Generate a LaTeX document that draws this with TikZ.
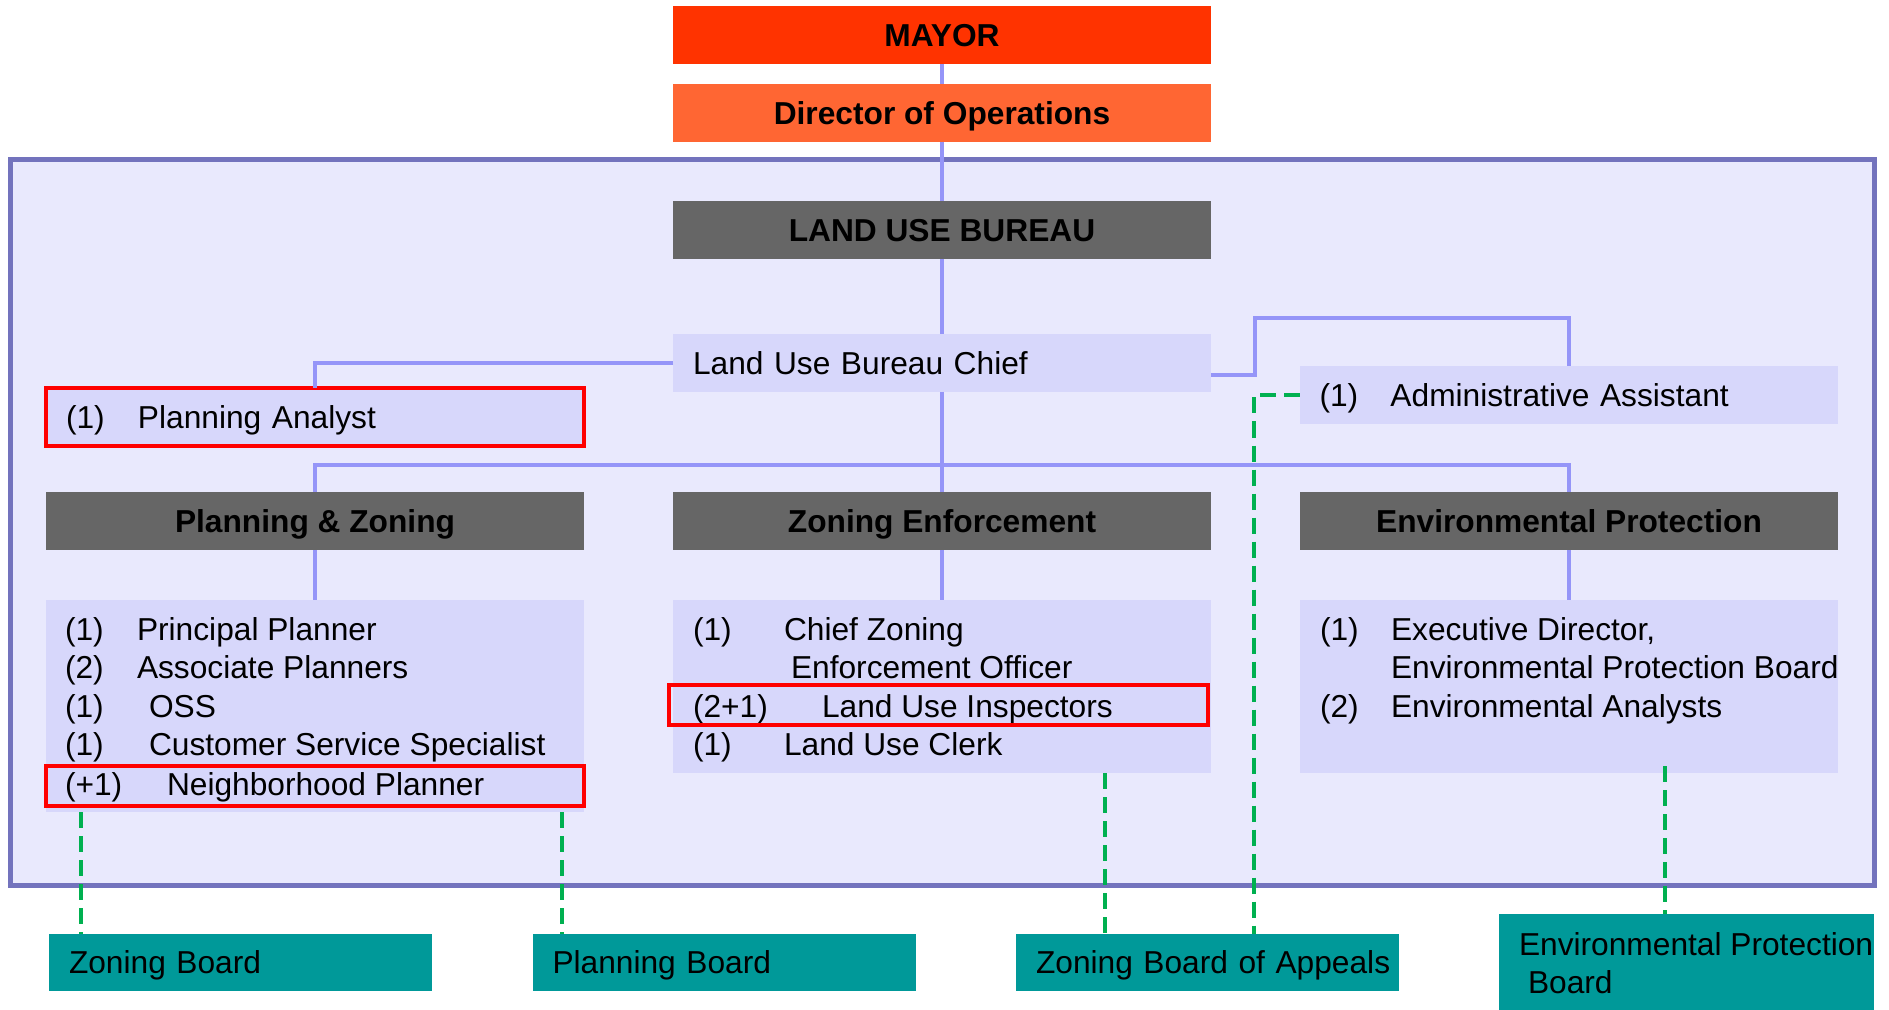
\documentclass[tikz,border=0pt]{standalone}
\usepackage{fontspec}
\setmainfont{Liberation Sans}
\usetikzlibrary{positioning}
\definecolor{mayorred}{HTML}{FF3300}
\definecolor{opsorange}{HTML}{FF6633}
\definecolor{headgray}{HTML}{666666}
\definecolor{panelfill}{HTML}{E9E9FD}
\definecolor{panelline}{HTML}{7373BD}
\definecolor{staffblue}{HTML}{D7D7FB}
\definecolor{linkblue}{HTML}{9595F8}
\definecolor{flagred}{HTML}{FF0000}
\definecolor{boardteal}{HTML}{009999}
\definecolor{boardgreen}{HTML}{00B050}
\newcommand{\orgfont}{\fontsize{15.85pt}{19pt}\selectfont}
\tikzset{
	x=0.5pt, y=-0.5pt,
	base/.style = {inner sep=0pt, outer sep=0pt, font=\orgfont, text height=11.3pt, text depth=0pt},
	wide/.style = {base, minimum width=269pt, minimum height=29pt},
	headbox/.style = {wide, fill=headgray, font=\orgfont\bfseries},
	staffbox/.style = {wide, fill=staffblue, text width=249pt, align=left},
	listbox/.style = {base, fill=staffblue, minimum width=269pt},
	flagbox/.style = {base, draw=flagred, line width=2pt, minimum width=269pt, minimum height=20pt},
	boardbox/.style = {base, fill=boardteal, minimum width=191.5pt, minimum height=28.5pt, text width=171.5pt, align=left},
	panel/.style = {base, fill=panelfill, draw=panelline, line width=2.5pt, minimum width=932pt, minimum height=362.5pt},
	entry/.style = {base, anchor=west},
	link/.style = {draw=linkblue, line width=2pt},
	boardlink/.style = {draw=boardgreen, line width=2pt, dash pattern=on 8pt off 4pt}
}
\begin{document}
\begin{tikzpicture}
	\useasboundingbox (0,0) rectangle (1889,1010);
	\node[panel] (bureau) at (942,522.5) {};
	% top of the chain
	\node[wide, fill=mayorred, font=\orgfont\bfseries] (mayor) at (942,35) {MAYOR};
	\node[wide, fill=opsorange, font=\orgfont\bfseries] (ops) [below=10pt of mayor] {Director of Operations};
	\node[headbox] (lub) [below=29.5pt of ops] {LAND USE BUREAU};
	\node[staffbox] (chief) [below=37.5pt of lub] {Land Use Bureau Chief};
	\node[staffbox, draw=flagred, line width=2pt] (analyst) at (315,417) {\makebox[36pt][l]{(1)}Planning Analyst};
	\node[staffbox] (admin) at (1568.5,395) {\makebox[35.5pt][l]{(1)}Administrative Assistant};
	% divisions
	\node[headbox] (zehead) [below=50pt of chief] {Zoning Enforcement};
	\node[headbox] (pzhead) [left=44.5pt of zehead] {Planning \& Zoning};
	\node[headbox] (ephead) [right=44.5pt of zehead] {Environmental Protection};
	\node[listbox, minimum height=106pt, anchor=north] (pzlist) [below=25pt of pzhead] {};
	\node[listbox, minimum height=86.5pt, anchor=north] (zelist) [below=25pt of zehead] {};
	\node[listbox, minimum height=86.5pt, anchor=north] (eplist) [below=25pt of ephead] {};
	% staff lines
	\node[entry] at (65,629) {(1)};
	\node[entry] at (137,629) {Principal Planner};
	\node[entry] at (65,667) {(2)};
	\node[entry] at (137,667) {Associate Planners};
	\node[entry] at (65,706) {(1)};
	\node[entry] at (149,706) {OSS};
	\node[entry] at (65,744) {(1)};
	\node[entry] at (149,744) {Customer Service Specialist};
	\node[entry] at (65,784) {(+1)};
	\node[entry] at (167,784) {Neighborhood Planner};
	\node[entry] at (693,629) {(1)};
	\node[entry] at (784,629) {Chief Zoning};
	\node[entry] at (791,667) {Enforcement Officer};
	\node[entry] at (693,706) {(2+1)};
	\node[entry] at (822,706) {Land Use Inspectors};
	\node[entry] at (693,744) {(1)};
	\node[entry] at (784,744) {Land Use Clerk};
	\node[entry] at (1320,629) {(1)};
	\node[entry] at (1391,629) {Executive Director,};
	\node[entry] at (1391,667) {Environmental Protection Board};
	\node[entry] at (1320,706) {(2)};
	\node[entry] at (1391,706) {Environmental Analysts};
	\node[flagbox] (newplanner) at (315,786) {};
	\node[flagbox, minimum width=269.5pt] (inspectors) at (938.5,705) {};
	% boards
	\node[boardbox] (zb) at (240.5,962.5) {Zoning Board};
	\node[boardbox] (pb) at (724,962.5) {Planning Board};
	\node[boardbox] (zba) at (1207.5,962.5) {\mbox{Zoning Board of Appeals}};
	\node[base, fill=boardteal, minimum width=187.5pt, minimum height=48pt] (epb) at (1686.5,962) {};
	\node[entry] at (1519,944) {Environmental Protection};
	\node[entry] at (1528,982) {Board};
	% reporting lines
	\coordinate (adminbend) at (1255,318);
	\coordinate (bus) at (942,465);
	\draw[link] (mayor) -- (ops);
	\draw[link] (ops) -- (lub);
	\draw[link] (lub) -- (chief);
	\draw[link] (chief.west) -| (analyst.north);
	\draw[link] ([yshift=-6pt]chief.east) -| (adminbend) -| (admin.north);
	\draw[link] (chief) -- (bus);
	\draw[link] (pzhead.north) |- (bus) -| (ephead.north);
	\draw[link] (bus) -- (zehead.north);
	\draw[link] (pzhead) -- (pzlist);
	\draw[link] (zehead) -- (zelist);
	\draw[link] (ephead) -- (eplist);
	% board links
	\coordinate (zbtop) at ([xshift=16pt]zb.north west);
	\coordinate (pbtop) at ([xshift=14.5pt]pb.north west);
	\coordinate (zbatop) at ([xshift=44.5pt]zba.north west);
	\coordinate (zbaadmin) at ([xshift=119pt]zba.north west);
	\coordinate (epbtop) at ([xshift=83pt]epb.north west);
	\draw[boardlink] (zbtop |- pzlist.south) -- (zbtop);
	\draw[boardlink] (pbtop |- pzlist.south) -- (pbtop);
	\draw[boardlink] (zbatop |- zelist.south) -- (zbatop);
	\draw[boardlink] (admin.west) -| (zbaadmin);
	\draw[boardlink] ([yshift=3.5pt]epbtop |- eplist.south) -- (epbtop);
\end{tikzpicture}
\end{document}
